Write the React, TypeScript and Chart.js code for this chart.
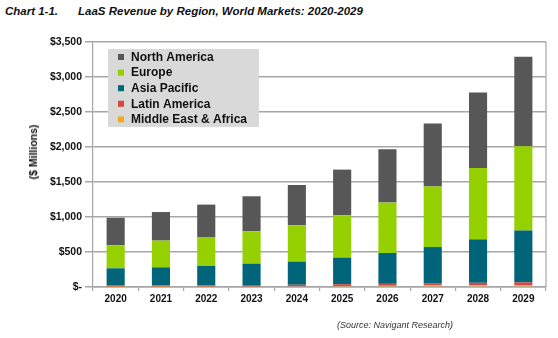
import React, { useEffect, useRef } from "react";
import { Chart, registerables } from "chart.js";

Chart.register(...registerables);

const years = ["2020", "2021", "2022", "2023", "2024", "2025", "2026", "2027", "2028", "2029"];
const northAmerica = [394, 408, 463, 500, 576, 653, 761, 900, 1077, 1281];
const europe = [329, 382, 414, 462, 518, 604, 720, 863, 1019, 1204];
const asiaPacific = [247, 259, 275, 306, 331, 380, 441, 516, 621, 741];
const latinAmerica = [14, 15, 17, 19, 21, 26, 28, 33, 35, 37];
const middleEastAfrica = [6, 7, 8, 9, 11, 14, 17, 22, 25, 28];
const yTicks = [0, 500, 1000, 1500, 2000, 2500, 3000, 3500];

const COLORS = {
  na: "#575757",
  eu: "#95d000",
  ap: "#00657a",
  la: "#d9463b",
  mea: "#f7a823",
};

const FONT = "'Liberation Sans', Arial, sans-serif";

const legendItems = [
  { label: "North America", color: COLORS.na },
  { label: "Europe", color: COLORS.eu },
  { label: "Asia Pacific", color: COLORS.ap },
  { label: "Latin America", color: COLORS.la },
  { label: "Middle East & Africa", color: COLORS.mea },
];

const boxLegendPlugin = {
  id: "boxLegend",
  beforeDatasetsDraw(chart: any) {
    const { ctx, chartArea } = chart;
    const x0 = chartArea.left + 15;
    const y0 = chartArea.top + 7;
    ctx.save();
    ctx.fillStyle = "#d9d9d9";
    ctx.fillRect(x0, y0, 151, 78);
    ctx.font = `bold 12px ${FONT}`;
    ctx.textBaseline = "middle";
    ctx.textAlign = "left";
    legendItems.forEach((it, i) => {
      const cy = y0 + 8 + i * 15.6;
      ctx.fillStyle = it.color;
      ctx.fillRect(x0 + 10, cy - 3, 6, 6);
      ctx.fillStyle = "#111";
      ctx.fillText(it.label, x0 + 23, cy + 0.5);
    });
    ctx.restore();
  },
  afterDraw(chart: any) {
    const { ctx, chartArea } = chart;
    ctx.save();
    ctx.strokeStyle = "#a6a6a6";
    ctx.lineWidth = 1.2;
    ctx.beginPath();
    ctx.moveTo(chartArea.right, chartArea.top);
    ctx.lineTo(chartArea.right, chartArea.bottom);
    ctx.stroke();
    ctx.restore();
  },
};

export default function App() {
  const ref = useRef<HTMLCanvasElement>(null);

  useEffect(() => {
    const canvas = ref.current;
    if (!canvas) return;
    const chart = new Chart(canvas, {
      type: "bar",
      data: {
        labels: years,
        datasets: [
          { label: "Middle East & Africa", data: middleEastAfrica, backgroundColor: COLORS.mea },
          { label: "Latin America", data: latinAmerica, backgroundColor: COLORS.la },
          { label: "Asia Pacific", data: asiaPacific, backgroundColor: COLORS.ap },
          { label: "Europe", data: europe, backgroundColor: COLORS.eu },
          { label: "North America", data: northAmerica, backgroundColor: COLORS.na },
        ],
      },
      options: {
        animation: false,
        responsive: false,
        maintainAspectRatio: false,
        devicePixelRatio: 1,
        layout: { padding: { left: 0, top: 42, right: 12, bottom: 0 } },
        datasets: { bar: { barPercentage: 0.4, categoryPercentage: 1 } },
        plugins: { legend: { display: false }, tooltip: { enabled: false } },
        scales: {
          x: {
            stacked: true,
            afterFit: (s: any) => {
              s.height = 51;
            },
            grid: {
              offset: true,
              drawOnChartArea: false,
              drawTicks: true,
              tickLength: 4,
              color: "#a6a6a6",
              lineWidth: 1.2,
            },
            border: { display: true, color: "#a6a6a6", width: 1.5 },
            ticks: {
              padding: 2,
              color: "#111",
              font: { family: FONT, size: 10, weight: "bold" },
            },
          },
          y: {
            stacked: true,
            min: yTicks[0],
            max: yTicks[yTicks.length - 1],
            afterFit: (s: any) => {
              s.width = 93;
            },
            afterBuildTicks: (s: any) => {
              s.ticks = yTicks.map((v) => ({ value: v }));
            },
            grid: {
              color: "#a6a6a6",
              lineWidth: 1.5,
              drawTicks: true,
              tickLength: 8,
            },
            border: { display: true, color: "#a6a6a6", width: 1.2 },
            ticks: {
              padding: 3,
              color: "#111",
              font: { family: FONT, size: 10.5, weight: "bold" },
              callback: (v: any) =>
                Number(v) === 0 ? "$-" : "$" + Number(v).toLocaleString("en-US"),
            },
          },
        },
      },
      plugins: [boxLegendPlugin],
    } as any);
    return () => chart.destroy();
  }, []);

  return (
    <div
      style={{
        position: "absolute",
        left: 0,
        top: 0,
        width: 558,
        height: 338,
        background: "#fff",
        fontFamily: FONT,
      }}
    >
      <div
        style={{
          position: "absolute",
          left: 5,
          top: 5,
          fontSize: 11.5,
          fontWeight: "bold",
          fontStyle: "italic",
          color: "#111",
          whiteSpace: "nowrap",
        }}
      >
        Chart 1-1.
      </div>
      <div
        style={{
          position: "absolute",
          left: 78,
          top: 5,
          fontSize: 11.5,
          fontWeight: "bold",
          fontStyle: "italic",
          color: "#111",
          whiteSpace: "nowrap",
        }}
      >
        LaaS Revenue by Region, World Markets: 2020-2029
      </div>
      <canvas
        ref={ref}
        width={558}
        height={338}
        style={{ position: "absolute", left: 0, top: 0, width: 558, height: 338 }}
      />
      <div
        style={{
          position: "absolute",
          left: 33,
          top: 152,
          transform: "translate(-50%, -50%) rotate(-90deg)",
          fontSize: 10.5,
          fontWeight: "bold",
          color: "#111",
          whiteSpace: "nowrap",
        }}
      >
        ($ Millions)
      </div>
      <div
        style={{
          position: "absolute",
          left: 337,
          top: 320,
          fontSize: 9,
          fontStyle: "italic",
          color: "#333",
          whiteSpace: "nowrap",
        }}
      >
        (Source: Navigant Research)
      </div>
    </div>
  );
}
